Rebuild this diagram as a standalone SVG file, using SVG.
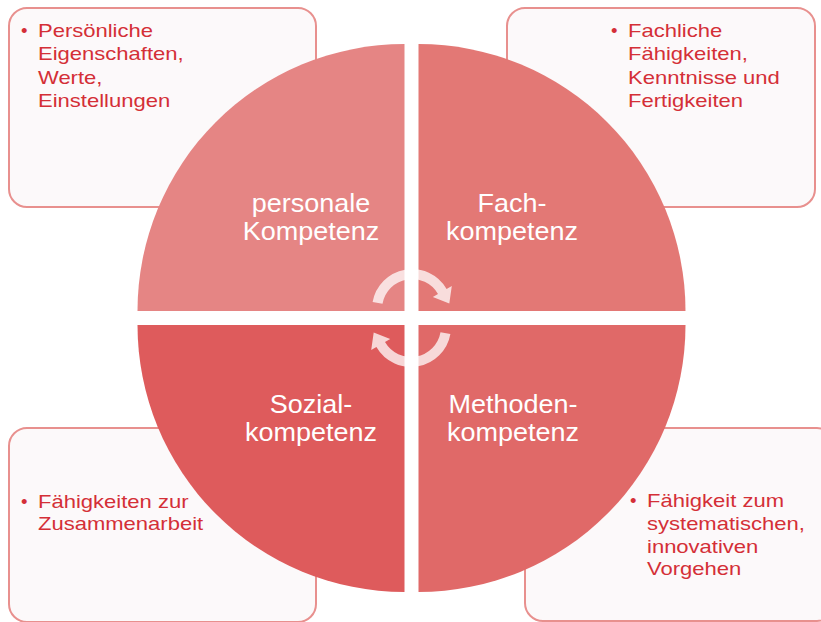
<svg xmlns="http://www.w3.org/2000/svg" width="821" height="622" viewBox="0 0 821 622">
  <style>
    .box { fill: #FCF9FA; stroke: #E8908E; stroke-width: 2; }
    .bt { font-family: "Liberation Sans", Arial, sans-serif; font-size: 18.5px; fill: #D42F37; }
    .qt { font-family: "Liberation Sans", Arial, sans-serif; font-size: 25px; fill: #FFFFFF; text-anchor: middle; }
    .arrow { fill: #FFFFFF; fill-opacity: 0.75; }
  </style>
  <rect width="821" height="622" fill="#FFFFFF"/>

  <!-- Description boxes -->
  <g id="box-personal">
    <rect class="box" x="9" y="8" width="307" height="199" rx="18"/>
    <text class="bt" x="21" y="37">•</text>
    <g transform="translate(38,0) scale(1.19,1)">
      <text class="bt" x="0" y="37">Persönliche</text>
      <text class="bt" x="0" y="60.5">Eigenschaften,</text>
      <text class="bt" x="0" y="84">Werte,</text>
      <text class="bt" x="0" y="107">Einstellungen</text>
    </g>
  </g>
  <g id="box-fach">
    <rect class="box" x="507" y="8" width="308" height="199" rx="18"/>
    <text class="bt" x="611" y="37">•</text>
    <g transform="translate(628,0) scale(1.19,1)">
      <text class="bt" x="0" y="37">Fachliche</text>
      <text class="bt" x="0" y="60.5">Fähigkeiten,</text>
      <text class="bt" x="0" y="84">Kenntnisse und</text>
      <text class="bt" x="0" y="107">Fertigkeiten</text>
    </g>
  </g>
  <g id="box-sozial">
    <rect class="box" x="9" y="428" width="307" height="194" rx="18"/>
    <text class="bt" x="21" y="508">•</text>
    <g transform="translate(38,0) scale(1.19,1)">
      <text class="bt" x="0" y="508">Fähigkeiten zur</text>
      <text class="bt" x="0" y="530">Zusammenarbeit</text>
    </g>
  </g>
  <g id="box-methoden">
    <rect class="box" x="525" y="428" width="310" height="193" rx="18"/>
    <text class="bt" x="630" y="507">•</text>
    <g transform="translate(647,0) scale(1.19,1)">
      <text class="bt" x="0" y="507">Fähigkeit zum</text>
      <text class="bt" x="0" y="530">systematischen,</text>
      <text class="bt" x="0" y="553">innovativen</text>
      <text class="bt" x="0" y="575">Vorgehen</text>
    </g>
  </g>

  <!-- Quadrants -->
  <g id="q-personal">
    <path d="M 404.5 311 L 137.5 311 A 267 267 0 0 1 404.5 44 Z" fill="#E58584"/>
    <g transform="translate(311,0) scale(1.08,1)">
      <text class="qt" x="0" y="212">personale</text>
      <text class="qt" x="0" y="240">Kompetenz</text>
    </g>
  </g>
  <g id="q-fach">
    <path d="M 418.5 311 L 418.5 44 A 267 267 0 0 1 685.5 311 Z" fill="#E37875"/>
    <g transform="translate(512,0) scale(1.08,1)">
      <text class="qt" x="0" y="212">Fach-</text>
      <text class="qt" x="0" y="240">kompetenz</text>
    </g>
  </g>
  <g id="q-sozial">
    <path d="M 404.5 325 L 404.5 592 A 267 267 0 0 1 137.5 325 Z" fill="#DE5B5C"/>
    <g transform="translate(311,0) scale(1.08,1)">
      <text class="qt" x="0" y="413">Sozial-</text>
      <text class="qt" x="0" y="441">kompetenz</text>
    </g>
  </g>
  <g id="q-methoden">
    <path d="M 418.5 325 L 685.5 325 A 267 267 0 0 1 418.5 592 Z" fill="#E06968"/>
    <g transform="translate(513,0) scale(1.08,1)">
      <text class="qt" x="0" y="413">Methoden-</text>
      <text class="qt" x="0" y="441">kompetenz</text>
    </g>
  </g>

  <!-- Cycle arrows -->
  <g id="connectors">
    <path class="arrow" d="M 372.6 302.1 A 40 40 0 0 1 446.6 289 L 451.8 286 L 449.3 303.6 L 432.8 297 L 438 294 A 30 30 0 0 0 382.5 303.8 Z"/>
    <path class="arrow" d="M 450.4 334 A 40 40 0 0 1 376.4 347 L 371.2 350 L 373.7 332.4 L 390.2 339 L 385 342 A 30 30 0 0 0 440.5 332.2 Z"/>
  </g>
</svg>
